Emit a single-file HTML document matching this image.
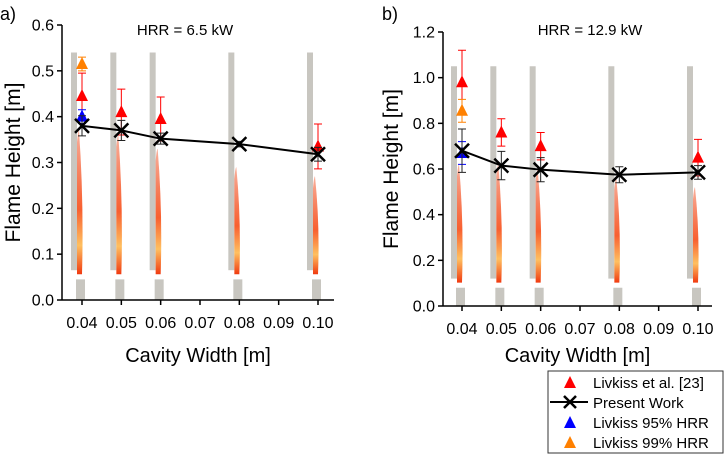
<!DOCTYPE html>
<html><head><meta charset="utf-8"><style>
body{margin:0;background:#fff;}
svg{display:block;font-family:"Liberation Sans",sans-serif;}
</style></head><body>
<svg id="chart" width="724" height="454" viewBox="0 0 724 454" xmlns="http://www.w3.org/2000/svg">
<defs>
<linearGradient id="flameGrad" x1="0" y1="1" x2="0" y2="0">
<stop offset="0" stop-color="#f03a10"/><stop offset="0.2" stop-color="#ffc060"/><stop offset="0.45" stop-color="#f86030"/><stop offset="1" stop-color="#f04010" stop-opacity="0.4"/>
</linearGradient>
</defs>
<g id="root"></g>
<g>
<rect x="548" y="371" width="175" height="82" fill="#fff" stroke="#333" stroke-width="1"/>
<g><polygon points="570,376 564,388 576,388" fill="#f00"/><text x="593" y="388" font-size="15">Livkiss et al. [23]</text></g>
<g><line x1="550" y1="402" x2="588" y2="402" stroke="#000" stroke-width="2"/><path d="M564,396 L576,408 M576,396 L564,408" stroke="#000" stroke-width="2.5"/><text x="593" y="408" font-size="15">Present Work</text></g>
<g><polygon points="570,416 564,428 576,428" fill="#00f"/><text x="593" y="428" font-size="15">Livkiss 95% HRR</text></g>
<g><polygon points="570,436 564,448 576,448" fill="#ff8000"/><text x="593" y="448" font-size="15">Livkiss 99% HRR</text></g>
</g>
</svg>
<script>
const categories=[0.04,0.05,0.06,0.08,0.10];
const presentA=[0.38,0.37,0.352,0.34,0.318];
const presentAErr=[0.022,0.022,0.012,0.006,0.015];
const livkissA=[0.445,0.41,0.395,null,0.335];
const livkissAErr=[0.05,0.05,0.048,null,0.049];
const blueA=0.40, blueAErr=0.015;
const orangeA=0.515, orangeAErr=0.015;
const presentB=[0.68,0.615,0.597,0.575,0.585];
const presentBErr=[0.095,0.062,0.053,0.035,0.03];
const livkissB=[0.98,0.76,0.70,null,0.65];
const livkissBErr=[0.14,0.06,0.06,null,0.08];
const blueB=0.67, blueBErr=0.05;
const orangeB=0.855, orangeBErr=0.05;
const xTicks=[0.04,0.05,0.06,0.07,0.08,0.09,0.10];
const yTicksA=[0,0.1,0.2,0.3,0.4,0.5,0.6];
const yTicksB=[0,0.2,0.4,0.6,0.8,1.0,1.2];
const flameTopA=[0.37,0.36,0.33,0.29,0.27];
const flameTopB=[0.62,0.62,0.6,0.56,0.52];

const NS="http://www.w3.org/2000/svg";
const root=document.getElementById('root');
function el(tag,attrs,parent,txt){const e=document.createElementNS(NS,tag);for(const k in attrs)e.setAttribute(k,attrs[k]);if(txt!==undefined)e.textContent=txt;(parent||root).appendChild(e);return e;}

function panel(cfg){
  const g=el('g',{});
  
  
  const X=v=>cfg.x0+(v-0.04)/0.06*(cfg.x1-cfg.x0);
  const Y=v=>cfg.y0-(v/cfg.ymax)*(cfg.y0-cfg.yTop);
  categories.forEach((c,i)=>{
    const px=X(c);
    const w=el('rect',{x:px-11,y:Y(cfg.wallTop),width:6,height:Y(cfg.wallBot)-Y(cfg.wallTop),fill:'#c8c6c0'},g);
    
    
    const b=el('rect',{x:px-6,y:Y(cfg.blockTop),width:9,height:cfg.y0-Y(cfg.blockTop),fill:'#c8c6c0'},g);
    
    
    const ft=Y(cfg.flameTop[i]), fb=Y(cfg.wallBot)+4;
    const f=el('path',{d:`M${px-5},${fb} L${px-5},${ft+12} Q${px-4},${ft} ${px-3},${ft} Q${px+2},${(ft+fb)/2} ${px},${fb} Z`,fill:'url(#flameGrad)'},g);
    
    
  });
  el('line',{x1:cfg.axL,y1:cfg.yTop,x2:cfg.axL,y2:cfg.y0,stroke:'#000','stroke-width':1.5},g);
  el('line',{x1:cfg.axL,y1:cfg.y0,x2:cfg.axR,y2:cfg.y0,stroke:'#000','stroke-width':1.5},g);
  cfg.yTicks.forEach(t=>{const y=Y(t);el('line',{x1:cfg.axL-5,y1:y,x2:cfg.axL,y2:y,stroke:'#000','stroke-width':1.5},g);
    const tl=el('text',{x:cfg.axL-8,y:y+5.5,'font-size':16,'text-anchor':'end'},g,t.toFixed(1));
    
    });
  xTicks.forEach(t=>{const x=X(t);el('line',{x1:x,y1:cfg.y0,x2:x,y2:cfg.y0+5,stroke:'#000','stroke-width':1.5},g);
    const tl=el('text',{x:x,y:cfg.y0+28,'font-size':16,'text-anchor':'middle'},g,t.toFixed(2));
    
    });
  const xt=el('text',{x:(cfg.axL+cfg.axR)/2,y:cfg.xtY,'font-size':20,'text-anchor':'middle'},g,'Cavity Width [m]');
  
  
  const yt=el('text',{x:0,y:0,'font-size':21,'text-anchor':'middle',transform:`translate(${cfg.ytX},${(cfg.yTop+cfg.y0)/2}) rotate(-90)`},g,'Flame Height [m]');
  
  
  const tt=el('text',{x:cfg.titleX,y:35,'font-size':15,'text-anchor':'middle'},g,cfg.title);
  
  
  const pl=el('text',{x:cfg.labX,y:20,'font-size':18},g,cfg.label);
  
  
  function errbar(x,v,e,col){
    el('path',{d:`M${x},${Y(v-e)} L${x},${Y(v+e)} M${x-4},${Y(v-e)} L${x+4},${Y(v-e)} M${x-4},${Y(v+e)} L${x+4},${Y(v+e)}`,stroke:col,'stroke-width':1,fill:'none'},g);
  }
  function tri(x,v,col,name){
    const y=Y(v);
    const t=el('polygon',{points:`${x},${y-7} ${x-6},${y+5} ${x+6},${y+5}`,fill:col},g);
    
    
  }
  cfg.liv.forEach((v,i)=>{if(v==null)return;const x=X(categories[i]);errbar(x,v,cfg.livErr[i],'#f00');tri(x,v,'#f00','livkiss-marker');});
  errbar(X(0.04),cfg.orange,cfg.orangeErr,'#ff8000');tri(X(0.04),cfg.orange,'#ff8000','livkiss-99-marker');
  errbar(X(0.04),cfg.blue,cfg.blueErr,'#00f');tri(X(0.04),cfg.blue,'#00f','livkiss-95-marker');
  const pts=cfg.pres.map((v,i)=>`${X(categories[i])},${Y(v)}`).join(' ');
  const ln=el('polyline',{points:pts,fill:'none',stroke:'#000','stroke-width':2},g);
  
  
  cfg.pres.forEach((v,i)=>{const x=X(categories[i]),y=Y(v);errbar(x,v,cfg.presErr[i],'#222');
    const m=el('path',{d:`M${x-7},${y-7} L${x+7},${y+7} M${x+7},${y-7} L${x-7},${y+7}`,stroke:'#000','stroke-width':2.5},g);
    
    });
}
panel({name:'panel-a',x0:82,x1:318,axL:62,axR:334,y0:300,yTop:25,ymax:0.6,yTicks:yTicksA,ytX:20,xtY:362,titleX:185,title:'HRR = 6.5 kW',labX:0,label:'a)',
  wallTop:0.54,wallBot:0.065,blockTop:0.045,flameTop:flameTopA,
  liv:livkissA,livErr:livkissAErr,orange:orangeA,orangeErr:orangeAErr,blue:blueA,blueErr:blueBErr*0.3,pres:presentA,presErr:presentAErr});
panel({name:'panel-b',x0:462,x1:698,axL:443,axR:712,y0:306,yTop:32,ymax:1.2,yTicks:yTicksB,ytX:398,xtY:362,titleX:590,title:'HRR = 12.9 kW',labX:382,label:'b)',
  wallTop:1.05,wallBot:0.12,blockTop:0.08,flameTop:flameTopB,
  liv:livkissB,livErr:livkissBErr,orange:orangeB,orangeErr:orangeBErr,blue:blueB,blueErr:blueBErr,pres:presentB,presErr:presentBErr});
</script>
</body></html>
